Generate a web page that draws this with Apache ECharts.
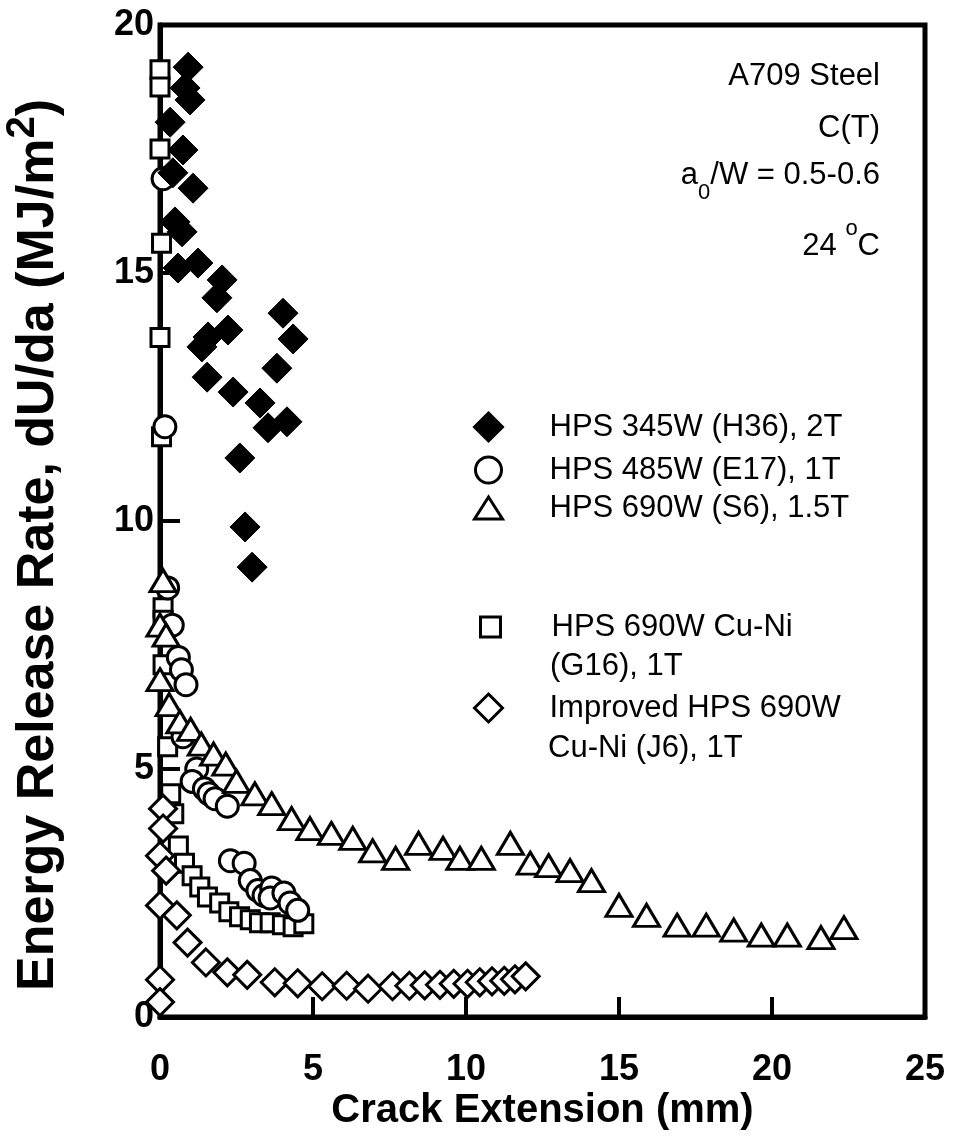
<!DOCTYPE html>
<html>
<head>
<meta charset="utf-8">
<script src="https://cdn.jsdelivr.net/npm/echarts@6/dist/echarts.min.js"></script>
<style>
html,body{margin:0;padding:0;background:#fff;}
#chart{width:953px;height:1137px;}
</style>
</head>
<body>
<div id="chart"></div>
<script>
// ---- data (crack extension mm, dU/da MJ/m^2) ----
const seriesNames = [
  'HPS 345W (H36), 2T',
  'HPS 485W (E17), 1T',
  'HPS 690W (S6), 1.5T',
  'HPS 690W Cu-Ni',
  'Improved HPS 690W'
];
const secondLines = ['(G16), 1T', 'Cu-Ni (J6), 1T'];
const h36Data = [
  [0.92,19.15],[0.82,18.73],[0.98,18.49],[0.33,18.04],[0.75,17.48],[0.42,17.02],
  [1.08,16.71],[0.49,16.03],[0.72,15.83],[0.59,15.10],[1.24,15.20],[2.03,14.86],
  [1.86,14.50],[4.02,14.19],[4.35,13.67],[2.22,13.85],[1.57,13.71],[1.37,13.51],
  [3.82,13.08],[1.54,12.90],[2.39,12.60],[3.27,12.38],[3.53,11.88],[4.15,12.00],
  [2.61,11.27],[2.78,9.88],[3.01,9.07]
];
const e17Data = [
  [0.10,16.9],[0.16,11.9],[0.25,8.65],[0.40,7.9],[0.60,7.25],[0.70,7.0],[0.85,6.7],
  [0.75,5.65],[1.20,5.0],[1.05,4.75],[1.45,4.6],[1.60,4.5],[1.80,4.4],[2.20,4.25],
  [2.30,3.15],[2.75,3.1],[2.95,2.75],[3.20,2.55],[3.40,2.45],[3.65,2.6],[3.60,2.4],
  [4.05,2.5],[4.25,2.3],[4.50,2.15]
];
const s6Data = [
  [0.10,8.8],[0.00,7.9],[0.20,7.7],[0.00,6.8],[0.30,6.3],[0.65,5.95],[1.00,5.8],
  [1.35,5.5],[1.75,5.3],[2.15,5.1],[2.50,4.75],[3.10,4.5],[3.65,4.3],[4.30,4.0],
  [4.90,3.8],[5.60,3.7],[6.30,3.6],[6.95,3.35],[7.70,3.2],[8.45,3.5],[9.25,3.4],
  [9.80,3.2],[10.50,3.2],[11.45,3.5],[12.10,3.1],[12.70,3.05],[13.40,2.95],[14.10,2.75],
  [15.00,2.25],[15.90,2.05],[16.90,1.85],[17.85,1.85],[18.75,1.75],[19.65,1.65],
  [20.50,1.65],[21.60,1.6],[22.35,1.8]
];
const g16Data = [
  [0.00,19.1],[0.00,18.75],[0.00,17.5],[0.05,15.6],[0.00,13.7],[0.05,11.7],[0.10,8.25],
  [0.10,8.0],[0.10,7.1],[0.25,5.45],[0.35,4.5],[0.45,4.1],[0.60,3.45],[0.80,3.1],
  [1.05,2.85],[1.30,2.62],[1.55,2.42],[1.95,2.3],[2.25,2.12],[2.60,2.02],[2.95,1.96],
  [3.25,1.9],[3.60,1.9],[4.00,1.86],[4.35,1.82],[4.70,1.88]
];
const j6Data = [
  [0.10,4.2],[0.10,3.8],[0.00,3.25],[0.20,2.95],[0.00,2.25],[0.55,2.05],[0.90,1.5],
  [1.50,1.1],[2.20,0.9],[2.85,0.85],[3.75,0.7],[4.50,0.68],[5.30,0.62],[6.10,0.63],
  [6.80,0.57],[7.60,0.62],[8.15,0.63],[8.65,0.64],[9.15,0.65],[9.60,0.67],[10.05,0.67],
  [10.45,0.7],[10.85,0.72],[11.25,0.73],[11.60,0.76],[11.95,0.82],[0.00,0.75],[0.00,0.3]
];
const xRange = [0, 25, 5];
const yRange = [0, 20, 5];

const FONT = 'Liberation Sans, Arial, sans-serif';
const chart = echarts.init(document.getElementById('chart'), null, {renderer: 'canvas'});

const openStyle = {color: '#fff', borderColor: '#000', borderWidth: 3, opacity: 1};

function legendAt(name, left, top, w, h, padLeft) {
  return {
    data: [name], orient: 'vertical', left: left, top: top, padding: 0,
    itemWidth: w, itemHeight: h, selectedMode: false,
    itemStyle: {borderWidth: 3, opacity: 1},
    textStyle: {fontFamily: FONT, fontSize: 31, color: '#000', lineHeight: 32, padding: [0, 0, 0, padLeft]}
  };
}

const option = {
  backgroundColor: '#fff',
  animation: false,
  grid: {left: 160, top: 25, right: 28, bottom: 120, outerBoundsMode: 'none', containLabel: false,
         show: true, borderColor: '#000', borderWidth: 5, backgroundColor: 'transparent'},
  xAxis: {
    type: 'value', min: xRange[0], max: xRange[1], interval: xRange[2],
    name: 'Crack Extension (mm)', nameLocation: 'middle', nameGap: 69, nameMoveOverlap: false,
    nameTextStyle: {fontFamily: FONT, fontSize: 40, fontWeight: 'bold', color: '#000', lineHeight: 50},
    axisLine: {show: true, lineStyle: {color: '#000', width: 5}},
    axisTick: {show: true, inside: true, length: 20, lineStyle: {color: '#000', width: 4}},
    axisLabel: {fontFamily: FONT, fontSize: 36, fontWeight: 'bold', color: '#000', margin: 32, lineHeight: 42},
    splitLine: {show: false}
  },
  yAxis: {
    type: 'value', min: yRange[0], max: yRange[1], interval: yRange[2],
    name: '{a|Energy Release Rate, dU/da (MJ/m}{s|2}{a|)}', nameLocation: 'middle', nameGap: 95, nameRotate: 90, nameMoveOverlap: false,
    nameTextStyle: {
      padding: [0, 48, 0, 0],
      rich: {
        a: {fontFamily: FONT, fontSize: 52, fontWeight: 'bold', color: '#000', lineHeight: 62, verticalAlign: 'bottom'},
        s: {fontFamily: FONT, fontSize: 40, fontWeight: 'bold', color: '#000', lineHeight: 62, verticalAlign: 'top'}
      }
    },
    axisLine: {show: true, lineStyle: {color: '#000', width: 5}},
    axisTick: {show: true, inside: true, length: 20, lineStyle: {color: '#000', width: 4}},
    axisLabel: {fontFamily: FONT, fontSize: 36, fontWeight: 'bold', color: '#000', margin: 6},
    splitLine: {show: false}
  },
  legend: [
    legendAt(seriesNames[0], 473, 411, 28, 28, 42),
    legendAt(seriesNames[1], 474, 454, 26, 26, 43),
    legendAt(seriesNames[2], 473, 492, 28, 22, 42),
    legendAt(seriesNames[3], 479, 611, 20, 20, 46),
    legendAt(seriesNames[4], 473, 692, 28, 28, 42)
  ],
  graphic: [
    {type: 'text', x: 550, y: 666, style: {text: secondLines[0], font: '31px ' + FONT, fill: '#000', textVerticalAlign: 'middle'}},
    {type: 'text', x: 548, y: 748, style: {text: secondLines[1], font: '31px ' + FONT, fill: '#000', textVerticalAlign: 'middle'}},
    {type: 'text', x: 880, y: 76, style: {text: 'A709 Steel', font: '31px ' + FONT, fill: '#000', textAlign: 'right', textVerticalAlign: 'middle'}},
    {type: 'text', x: 880, y: 128, style: {text: 'C(T)', font: '31px ' + FONT, fill: '#000', textAlign: 'right', textVerticalAlign: 'middle'}},
    {type: 'text', x: 880, y: 182, style: {
      text: '{n|a}{b|0}{n|/W = 0.5-0.6}', textAlign: 'right', textVerticalAlign: 'middle',
      rich: {
        n: {fontFamily: FONT, fontSize: 31, fill: '#000', lineHeight: 44, verticalAlign: 'top'},
        b: {fontFamily: FONT, fontSize: 22, fill: '#000', lineHeight: 44, verticalAlign: 'bottom'}
      }}},
    {type: 'text', x: 880, y: 240, style: {
      text: '{n|24 }{p|o}{n|C}', textAlign: 'right', textVerticalAlign: 'middle',
      rich: {
        n: {fontFamily: FONT, fontSize: 31, fill: '#000', lineHeight: 44, verticalAlign: 'bottom'},
        p: {fontFamily: FONT, fontSize: 22, fill: '#000', lineHeight: 44, verticalAlign: 'top'}
      }}}
  ],
  series: [
    {name: seriesNames[3], type: 'scatter', data: g16Data, symbol: 'rect', symbolSize: 18, itemStyle: openStyle, z: 2},
    {name: seriesNames[4], type: 'scatter', data: j6Data, symbol: 'diamond', symbolSize: 27, itemStyle: openStyle, z: 2},
    {name: seriesNames[1], type: 'scatter', data: e17Data, symbol: 'circle', symbolSize: 22, itemStyle: openStyle, z: 3},
    {name: seriesNames[2], type: 'scatter', data: s6Data, symbol: 'triangle', symbolSize: [26, 22], itemStyle: openStyle, z: 3},
    {name: seriesNames[0], type: 'scatter', data: h36Data, symbol: 'diamond', symbolSize: 30, itemStyle: {color: '#000', borderColor: '#000', borderWidth: 1, opacity: 1}, z: 4}
  ]
};
chart.setOption(option);
</script>
</body>
</html>
